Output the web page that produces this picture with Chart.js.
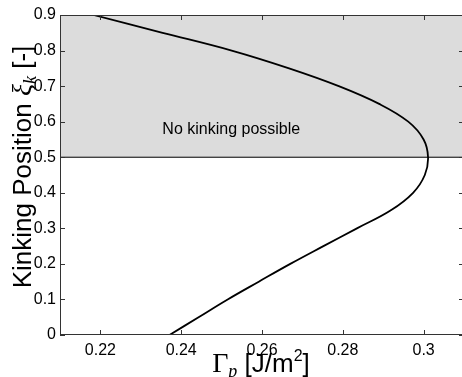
<!DOCTYPE html>
<html>
<head>
<meta charset="utf-8">
<script src="https://cdn.jsdelivr.net/npm/chart.js@4.4.1/dist/chart.umd.min.js"></script>
<style>
    html, body { margin: 0; padding: 0; background: #fff; overflow: hidden; }
    canvas { display: block; }
</style>
</head>
<body>
<canvas id="kinkChart" width="466" height="377"></canvas>
<script>
// ==================== DATA ====================

// Kinking position xi_k (y) and the matching Gamma_p (x)
const kinkPosition = [0, 0.05, 0.1, 0.15, 0.2, 0.25, 0.3, 0.35, 0.4, 0.45, 0.5,
                      0.55, 0.6, 0.65, 0.7, 0.75, 0.8, 0.85, 0.9];
const gammaP = [0.2371, 0.2443, 0.2515, 0.2592, 0.2670, 0.2752, 0.2835, 0.2918, 0.2974, 0.3003, 0.3011,
                0.3000, 0.2962, 0.2890, 0.2790, 0.2667, 0.2525, 0.2354, 0.2183];

// Shaded "no kinking" band
const noKinkBand = [0.5, 0.9];
const noKinkLabel = 'No kinking possible';
const noKinkLabelAt = [0.2524, 0.579];

// Axes
const xRange = [0.21, 0.31];
const yRange = [0, 0.9];
const xTicks = [0.22, 0.24, 0.26, 0.28, 0.3];
const yTicks = [0, 0.1, 0.2, 0.3, 0.4, 0.5, 0.6, 0.7, 0.8, 0.9];

// ==================== CHART ====================

const SANS = '"Liberation Sans", Arial, sans-serif';
const SERIF = '"Liberation Serif", "Times New Roman", serif';

const curvePoints = kinkPosition.map((y, i) => ({ x: gammaP[i], y: y }));

// Marco + ticks hacia adentro (estilo MATLAB)
const framePlugin = {
    id: 'frame',
    afterDraw(chart) {
        const { ctx, chartArea: a, scales } = chart;
        ctx.save();
        ctx.strokeStyle = '#333';
        ctx.lineWidth = 1;
        ctx.strokeRect(a.left + 0.5, a.top + 0.5, a.right - a.left - 1, a.bottom - a.top - 1);
        ctx.beginPath();
        xTicks.forEach(v => {
            const px = Math.round(scales.x.getPixelForValue(v)) + 0.5;
            ctx.moveTo(px, a.bottom); ctx.lineTo(px, a.bottom - 5);
            ctx.moveTo(px, a.top); ctx.lineTo(px, a.top + 5);
        });
        yTicks.forEach(v => {
            const py = Math.round(scales.y.getPixelForValue(v)) + 0.5;
            ctx.moveTo(a.left, py); ctx.lineTo(a.left + 5, py);
            ctx.moveTo(a.right, py); ctx.lineTo(a.right - 5, py);
        });
        ctx.stroke();
        ctx.restore();
    }
};

// Textos: etiqueta de la zona, titulos de ejes con sub/superindices
function drawPieces(ctx, pieces, cx, baseline) {
    let total = 0;
    pieces.forEach(p => { ctx.font = p.font; p.w = ctx.measureText(p.t).width; total += p.w; });
    let x = cx - total / 2;
    pieces.forEach(p => {
        ctx.font = p.font;
        ctx.fillText(p.t, x, baseline + (p.dy || 0));
        x += p.w;
    });
}

const labelsPlugin = {
    id: 'labels',
    afterDraw(chart) {
        const { ctx, scales } = chart;
        ctx.save();
        ctx.fillStyle = '#000';
        ctx.textBaseline = 'middle';
        ctx.textAlign = 'center';
        ctx.font = '16px ' + SANS;
        ctx.fillText(noKinkLabel,
            scales.x.getPixelForValue(noKinkLabelAt[0]),
            scales.y.getPixelForValue(noKinkLabelAt[1]));

        ctx.textAlign = 'left';
        ctx.textBaseline = 'alphabetic';
        // eje x
        drawPieces(ctx, [
            { t: 'Γ', font: '28px ' + SERIF },
            { t: 'p', font: 'italic 18px ' + SERIF, dy: 5 },
            { t: ' [J/m', font: '26px ' + SANS },
            { t: '2', font: '16px ' + SANS, dy: -11 },
            { t: ']', font: '26px ' + SANS }
        ], 261, 372);
        // eje y
        ctx.translate(31, 167);
        ctx.rotate(-Math.PI / 2);
        drawPieces(ctx, [
            { t: 'Kinking Position ', font: '26px ' + SANS },
            { t: 'ξ', font: 'italic 28px ' + SERIF },
            { t: 'k', font: 'italic 18px ' + SERIF, dy: 5 },
            { t: ' [-]', font: '26px ' + SANS }
        ], 0, 0);
        ctx.restore();
    }
};

const ctx = document.getElementById('kinkChart');
window.kinkChart = new Chart(ctx, {
    type: 'scatter',
    data: {
        datasets: [
            {
                label: 'curve',
                data: curvePoints,
                showLine: true,
                borderColor: '#000',
                borderWidth: 1.8,
                pointRadius: 0,
                tension: 0.4,
                fill: false,
                order: 0
            },
            {
                label: 'limit',
                data: xRange.map(x => ({ x: x, y: noKinkBand[0] })),
                showLine: true,
                borderColor: '#000',
                borderWidth: 1,
                pointRadius: 0,
                fill: false,
                order: 1
            },
            {
                label: 'band',
                data: xRange.map(x => ({ x: x, y: noKinkBand[1] })),
                showLine: true,
                borderWidth: 0,
                borderColor: 'rgba(0,0,0,0)',
                backgroundColor: '#dcdcdc',
                pointRadius: 0,
                fill: { value: noKinkBand[0] },
                order: 2
            }
        ]
    },
    options: {
        responsive: false,
        animation: false,
        layout: { padding: { top: 15, right: 2, left: 0, bottom: 0 } },
        plugins: { legend: { display: false }, tooltip: { enabled: false } },
        scales: {
            x: {
                type: 'linear',
                min: xRange[0],
                max: xRange[1],
                afterBuildTicks: s => { s.ticks = xTicks.map(v => ({ value: v })); },
                afterFit: s => { s.height = 42; },
                grid: { display: false, drawTicks: false },
                border: { display: false },
                ticks: {
                    padding: 6,
                    color: '#000',
                    font: { family: SANS, size: 16 },
                    callback: v => String(parseFloat(v.toFixed(2)))
                }
            },
            y: {
                type: 'linear',
                min: yRange[0],
                max: yRange[1],
                afterBuildTicks: s => { s.ticks = yTicks.map(v => ({ value: v })); },
                afterFit: s => { s.width = 60; },
                grid: { display: false, drawTicks: false },
                border: { display: false },
                ticks: {
                    padding: 4,
                    color: '#000',
                    font: { family: SANS, size: 16 },
                    callback: v => String(parseFloat(v.toFixed(1)))
                }
            }
        }
    },
    plugins: [framePlugin, labelsPlugin]
});
</script>
</body>
</html>
